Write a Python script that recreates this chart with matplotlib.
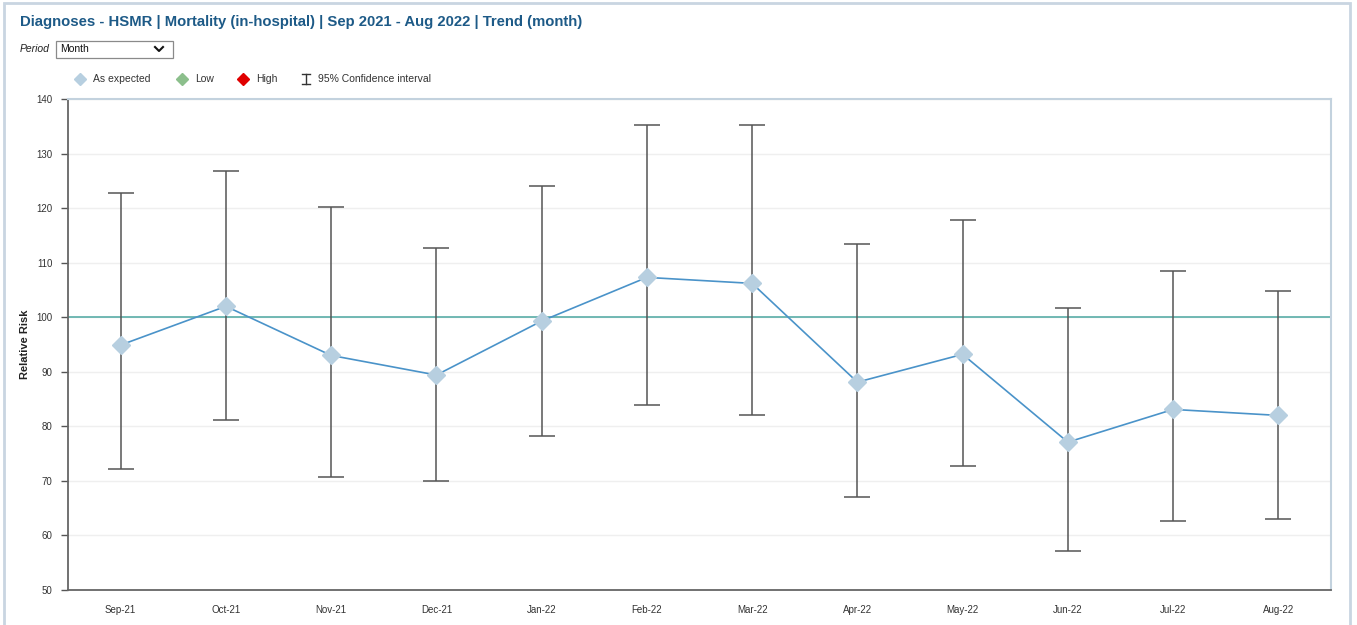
import matplotlib
matplotlib.use("Agg")
import matplotlib.pyplot as plt
from matplotlib.patches import Rectangle
from matplotlib.lines import Line2D

plt.rcParams['font.family'] = ['Liberation Sans', 'DejaVu Sans']

months = ["Sep-21", "Oct-21", "Nov-21", "Dec-21", "Jan-22", "Feb-22",
          "Mar-22", "Apr-22", "May-22", "Jun-22", "Jul-22", "Aug-22"]
relative_risk = [94.9, 102.0, 93.0, 89.4, 99.3, 107.3, 106.2, 88.1, 93.2, 77.1, 83.1, 82.0]
ci_upper = [122.8, 126.8, 120.2, 112.7, 124.0, 135.2, 135.2, 113.5, 117.9, 101.6, 108.4, 104.8]
ci_lower = [72.1, 81.1, 70.7, 70.0, 78.3, 84.0, 82.0, 67.1, 72.7, 57.1, 62.6, 63.1]
yticks = [50, 60, 70, 80, 90, 100, 110, 120, 130, 140]
reference = 100

W, H = 1357, 625
fig = plt.figure(figsize=(W / 100, H / 100), dpi=100)

def fx(px):
    return px / W

def fy(py):
    return 1 - py / H

# outer panel frame
fig.patches.append(Rectangle((fx(4), fy(640)), fx(1346), (640 - 3) / H,
                             transform=fig.transFigure, fill=False,
                             edgecolor='#c9d5e1', linewidth=2.0))

# title
fig.text(fx(20), fy(22), "Diagnoses - HSMR | Mortality (in-hospital) | Sep 2021 - Aug 2022 | Trend (month)",
         fontsize=10.7, fontweight='bold', color='#1d5a87', va='center', ha='left')

# Period selector
fig.text(fx(20), fy(49), "Period", fontsize=7.5, style='italic', color='#222222', va='center', ha='left')
fig.patches.append(Rectangle((fx(56), fy(58)), fx(117), 17 / H, transform=fig.transFigure,
                             facecolor='white', edgecolor='#8a8a8a', linewidth=0.9))
fig.text(fx(60), fy(49.5), "Month", fontsize=7.5, color='#111111', va='center', ha='left')
fig.lines.append(Line2D([fx(155), fx(159), fx(163)], [fy(47), fy(51), fy(47)],
                        transform=fig.transFigure, color='#111111', linewidth=1.5))

# legend
leg_y = fy(79)
fig.lines.append(Line2D([fx(80)], [leg_y], transform=fig.transFigure, marker='D',
                        markersize=6, color='#b7cfe0', linestyle='none'))
fig.text(fx(93), leg_y, "As expected", fontsize=7.5, color='#333333', va='center', ha='left')
fig.lines.append(Line2D([fx(182)], [leg_y], transform=fig.transFigure, marker='D',
                        markersize=6, color='#8cbf8c', linestyle='none'))
fig.text(fx(195), leg_y, "Low", fontsize=7.5, color='#333333', va='center', ha='left')
fig.lines.append(Line2D([fx(243)], [leg_y], transform=fig.transFigure, marker='D',
                        markersize=6, color='#e00000', linestyle='none'))
fig.text(fx(256), leg_y, "High", fontsize=7.5, color='#333333', va='center', ha='left')
fig.lines.append(Line2D([fx(306), fx(306)], [fy(74), fy(84)], transform=fig.transFigure,
                        color='#333333', linewidth=1.0))
fig.lines.append(Line2D([fx(302), fx(310)], [fy(74), fy(74)], transform=fig.transFigure,
                        color='#333333', linewidth=1.0))
fig.lines.append(Line2D([fx(302), fx(310)], [fy(84), fy(84)], transform=fig.transFigure,
                        color='#333333', linewidth=1.0))
fig.text(fx(318), leg_y, "95% Confidence interval", fontsize=7.5, color='#333333', va='center', ha='left')

# axes
left, right, top, bottom = 68, 1331, 99, 590
ax = fig.add_axes([fx(left), fy(bottom), fx(right - left), (bottom - top) / H])
x = list(range(len(months)))

ax.set_xlim(-0.5, len(months) - 0.5)
ax.set_ylim(50, 140)
ax.set_yticks(yticks)
ax.set_xticks(x)
ax.set_xticklabels(months)
ax.grid(axis='y', color='#efefef', linewidth=1.0)
ax.set_axisbelow(True)

ax.axhline(reference, color='#5aaea8', linewidth=1.2, zorder=2)

err_low = [v - l for v, l in zip(relative_risk, ci_lower)]
err_high = [u - v for v, u in zip(relative_risk, ci_upper)]
ax.errorbar(x, relative_risk, yerr=[err_low, err_high], fmt='none',
            ecolor='#555555', elinewidth=1.1, capsize=9.5, capthick=1.1, zorder=3)
ax.plot(x, relative_risk, color='#4a93c9', linewidth=1.2, zorder=4)
ax.plot(x, relative_risk, linestyle='none', marker='D', markersize=9.5,
        color='#b7cfe0', markeredgecolor='#b7cfe0', zorder=5)

for side in ['top', 'right']:
    ax.spines[side].set_color('#c3d2de')
    ax.spines[side].set_linewidth(1.5)
for side in ['left', 'bottom']:
    ax.spines[side].set_color('#666666')
    ax.spines[side].set_linewidth(1.3)

ax.tick_params(axis='y', labelsize=7, colors='#555555', labelcolor='#333333',
               length=5, width=1.0, pad=6)
ax.tick_params(axis='x', labelsize=7, labelcolor='#333333', length=0, pad=11)
ax.set_ylabel("Relative Risk", fontsize=8, fontweight='bold', color='#222222')
ax.yaxis.set_label_coords((30 - left) / (right - left), 0.5)

fig.savefig("out.png", dpi=100)
